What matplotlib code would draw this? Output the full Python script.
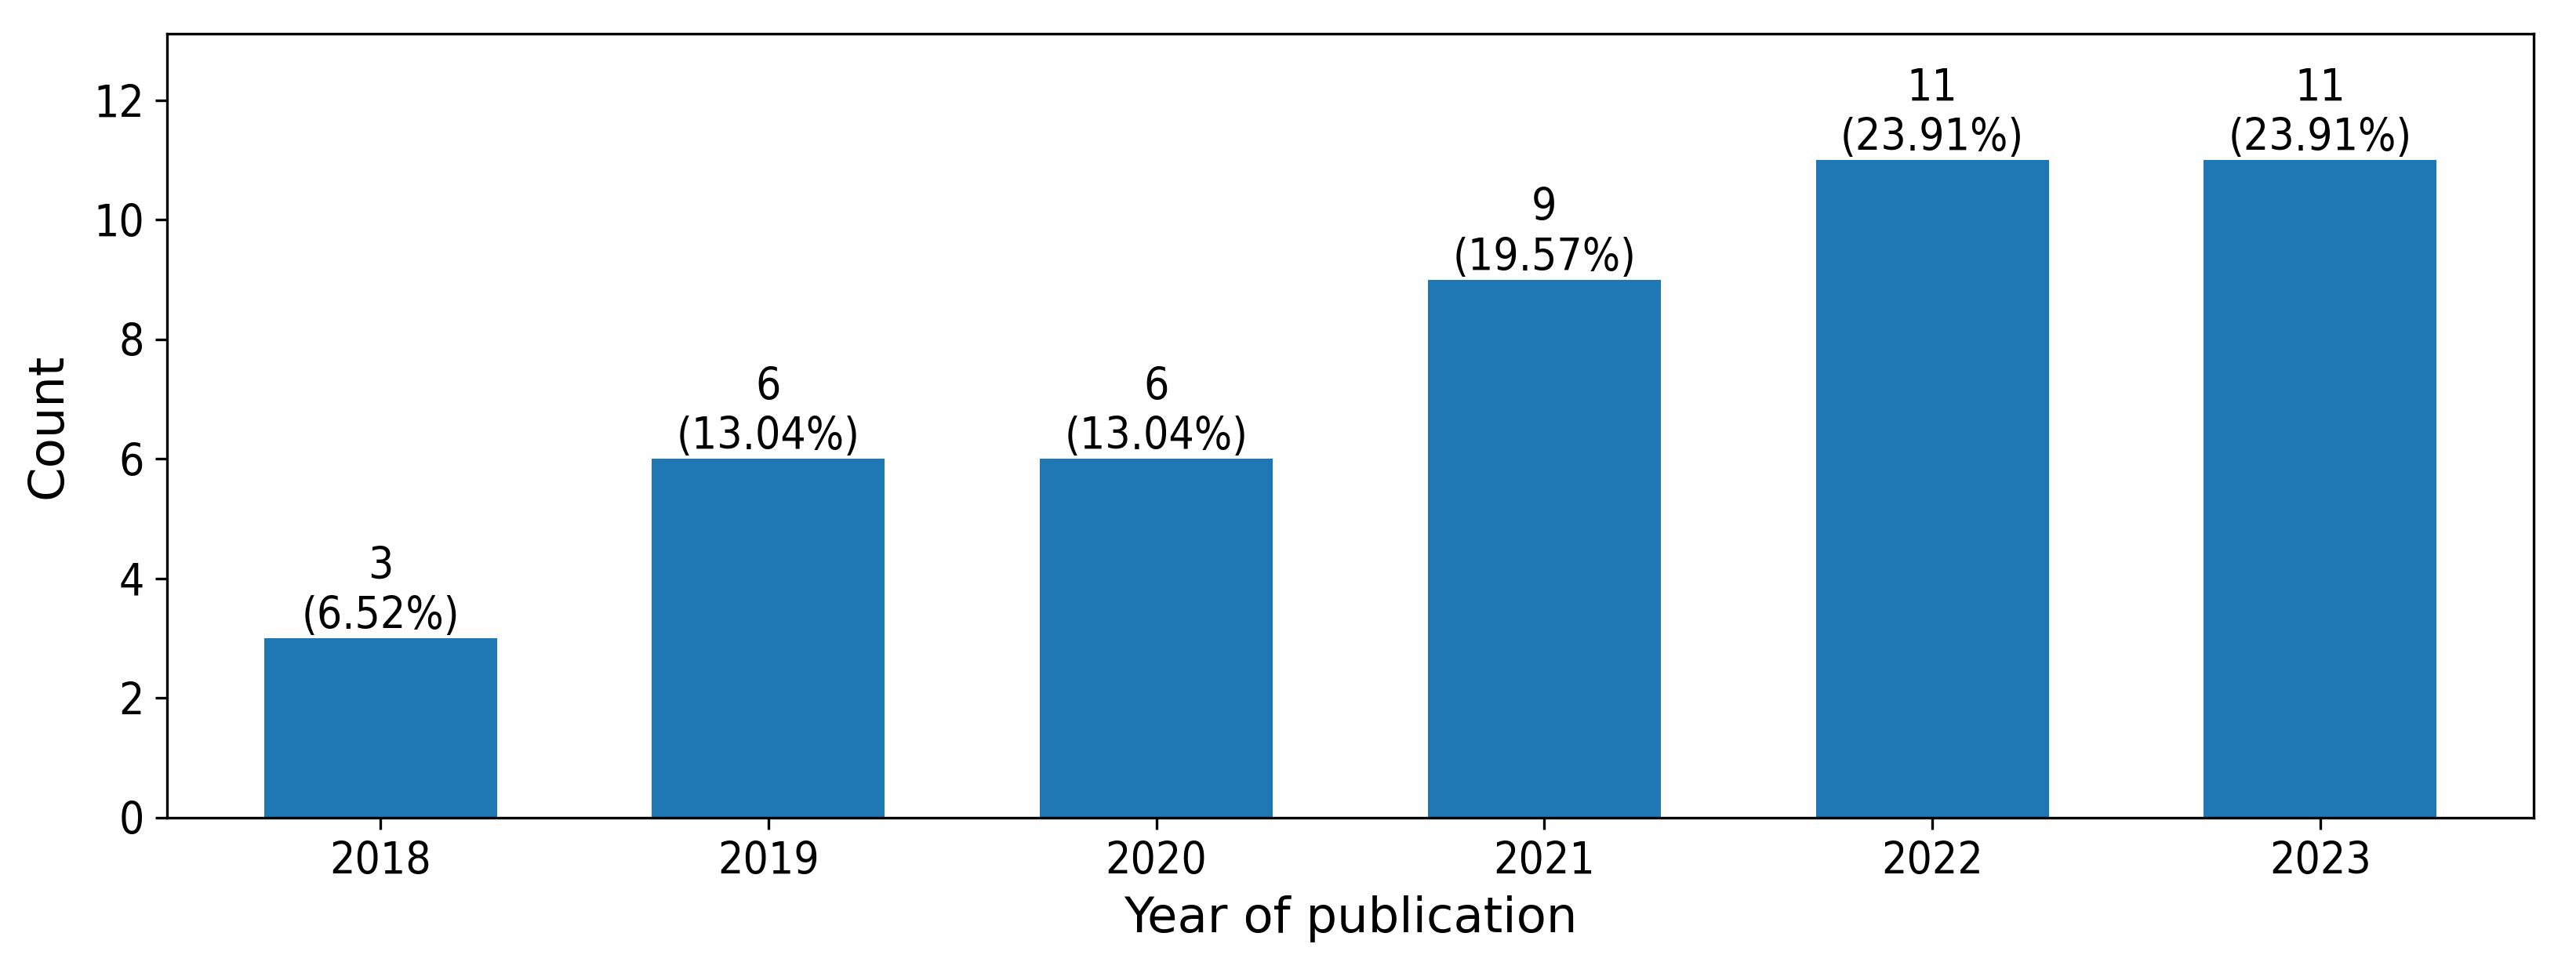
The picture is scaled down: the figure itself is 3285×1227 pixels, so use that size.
import matplotlib
matplotlib.use("Agg")
import matplotlib.pyplot as plt
import numpy as np

years = ["2018", "2019", "2020", "2021", "2022", "2023"]
counts = [3, 6, 6, 9, 11, 11]
percents = ["6.52%", "13.04%", "13.04%", "19.57%", "23.91%", "23.91%"]

fig = plt.figure(figsize=(10.95, 4.09), dpi=300)
ax = fig.add_axes([213/3285, 1 - 1043/1227, (3231-213)/3285, (1043-43)/1227])

x = np.arange(len(years))
ax.bar(x, counts, width=0.6, color="#1f77b4")
for xi, c, p in zip(x, counts, percents):
    ax.text(xi, c, f"{c}\n({p})", ha="center", va="bottom", fontsize=13.6,
            fontstretch="condensed")

ax.set_xticks(x)
ax.set_xticklabels(years)
ax.tick_params(axis="both", labelsize=13.6)
for lab in ax.get_xticklabels() + ax.get_yticklabels():
    lab.set_fontstretch("condensed")
ax.set_xlim(-0.55, 5.55)
ax.set_ylim(0, 13.11)
ax.set_yticks([0, 2, 4, 6, 8, 10, 12])
ax.set_xlabel("Year of publication", fontsize=15, labelpad=3.5)
ax.set_ylabel("Count", fontsize=15, labelpad=6.5)

fig.savefig("out.png", dpi=300)
